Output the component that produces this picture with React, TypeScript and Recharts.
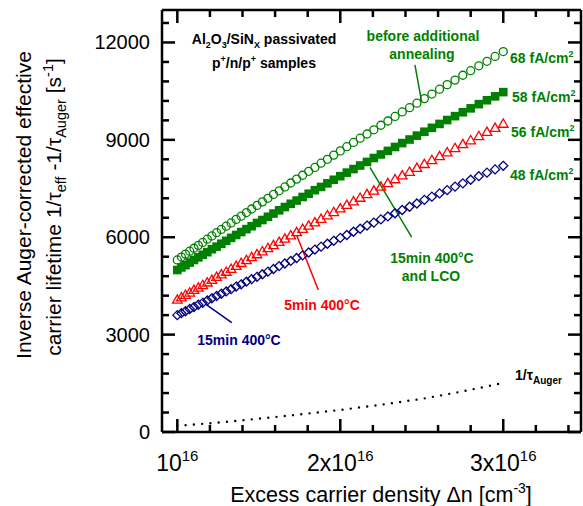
import React from "react";
import { ComposedChart, Scatter, Line, XAxis, YAxis, ReferenceLine } from "recharts";

// excess carrier density, in units of 1e16 cm^-3
const dn = [
  1.0, 1.025, 1.05, 1.076, 1.102, 1.129, 1.156, 1.184, 1.212, 1.241, 1.27, 1.3, 1.33, 1.361,
  1.392, 1.424, 1.456, 1.489, 1.522, 1.556, 1.59, 1.625, 1.66, 1.696, 1.732, 1.769, 1.806,
  1.844, 1.882, 1.921, 1.96, 2.0, 2.04, 2.081, 2.122, 2.164, 2.206, 2.249, 2.292, 2.336, 2.38,
  2.425, 2.47, 2.516, 2.562, 2.609, 2.656, 2.704, 2.752, 2.8, 2.85, 2.9, 2.95, 3.0,
];

// before additional annealing, 68 fA/cm2 (open circles)
const j68 = [
  5300, 5390, 5480, 5570, 5660, 5750, 5840, 5940, 6040, 6140, 6240, 6340, 6440, 6550, 6650,
  6760, 6870, 6980, 7090, 7200, 7320, 7430, 7550, 7670, 7790, 7910, 8030, 8150, 8280, 8400,
  8530, 8660, 8790, 8920, 9050, 9180, 9310, 9450, 9580, 9720, 9860, 9990, 10130, 10270, 10410,
  10560, 10700, 10840, 10990, 11130, 11280, 11420, 11570, 11720,
];

// 15min 400°C and LCO, 58 fA/cm2 (filled squares)
const j58 = [
  4990, 5070, 5140, 5220, 5300, 5380, 5460, 5540, 5630, 5710, 5800, 5890, 5980, 6070, 6160,
  6250, 6340, 6440, 6530, 6630, 6730, 6830, 6930, 7030, 7130, 7240, 7340, 7450, 7550, 7660,
  7770, 7880, 7990, 8100, 8210, 8320, 8440, 8550, 8660, 8780, 8900, 9010, 9130, 9250, 9370,
  9490, 9610, 9730, 9850, 9970, 10100, 10220, 10340, 10470,
];

// 5min 400°C, 56 fA/cm2 (open triangles)
const j56 = [
  4070, 4140, 4220, 4290, 4370, 4440, 4520, 4600, 4680, 4770, 4850, 4930, 5020, 5110, 5200,
  5290, 5380, 5470, 5560, 5660, 5750, 5850, 5950, 6050, 6150, 6250, 6350, 6450, 6560, 6670,
  6770, 6880, 6990, 7100, 7210, 7320, 7430, 7550, 7660, 7780, 7900, 8010, 8130, 8250, 8370,
  8490, 8610, 8740, 8860, 8980, 9110, 9240, 9360, 9490,
];

// 15min 400°C, 48 fA/cm2 (open diamonds)
const j48 = [
  3600, 3660, 3720, 3790, 3850, 3920, 3980, 4050, 4120, 4190, 4260, 4330, 4400, 4480, 4550,
  4630, 4710, 4780, 4860, 4940, 5020, 5110, 5190, 5270, 5360, 5440, 5530, 5620, 5710, 5800,
  5890, 5980, 6070, 6170, 6260, 6360, 6450, 6550, 6640, 6740, 6840, 6940, 7040, 7150, 7250,
  7350, 7450, 7560, 7660, 7770, 7880, 7990, 8090, 8200,
];

const augerDn = [1.0, 1.25, 1.5, 1.75, 2.0, 2.25, 2.5, 2.75, 3.0];
const auger = [190, 290, 410, 540, 680, 840, 1020, 1250, 1510];

const xTicks = [1, 1.2, 1.4, 1.6, 1.8, 2, 2.2, 2.4, 2.6, 2.8, 3, 3.2, 3.4];
const xMajor = [1, 2, 3];
const xLabels = ["10", "2x10", "3x10"];
const yTicks = [
  0, 600, 1200, 1800, 2400, 3000, 3600, 4200, 4800, 5400, 6000, 6600, 7200, 7800, 8400, 9000,
  9600, 10200, 10800, 11400, 12000, 12600,
];
const yMajor = [0, 3000, 6000, 9000, 12000];

const GREEN = "#008000";
const RED = "#ff0000";
const NAVY = "#000080";
const FONT = "'Liberation Sans', Arial, sans-serif";
const AX = { stroke: "#000", strokeWidth: 2.5 };

const pts = (xs: number[], ys: number[]) => xs.map((x, i) => ({ x, y: ys[i] }));

const BottomTick = (p: any) => {
  const i = xMajor.indexOf(p.payload.value);
  return (
    <g>
      <line x1={p.x} y1={p.y} x2={p.x} y2={p.y - (i >= 0 ? 13 : 7)} {...AX} />
      {i >= 0 && (
        <text x={p.x} y={p.y + 39} textAnchor="middle" fontSize={23} fontFamily={FONT} fill="#000">
          {xLabels[i]}
          <tspan fontSize={15} dy={-10}>16</tspan>
        </text>
      )}
    </g>
  );
};

const TopTick = (p: any) => {
  const major = xMajor.includes(p.payload.value);
  return <line x1={p.x} y1={p.y} x2={p.x} y2={p.y + (major ? 13 : 7)} {...AX} />;
};

const LeftTick = (p: any) => {
  const major = yMajor.includes(p.payload.value);
  return (
    <g>
      <line x1={p.x} y1={p.y} x2={p.x + (major ? 13 : 7)} y2={p.y} {...AX} />
      {major && (
        <text x={p.x - 12} y={p.y + 7} textAnchor="end" fontSize={20} fontFamily={FONT} fill="#000">
          {p.payload.value}
        </text>
      )}
    </g>
  );
};

const RightTick = (p: any) => {
  const major = yMajor.includes(p.payload.value);
  return <line x1={p.x} y1={p.y} x2={p.x - (major ? 13 : 7)} y2={p.y} {...AX} />;
};

const circle = (p: any) => (
  <circle cx={p.cx} cy={p.cy} r={4} fill="none" stroke={GREEN} strokeWidth={1.3} />
);
const square = (p: any) => <rect x={p.cx - 4.3} y={p.cy - 4.3} width={8.6} height={8.6} fill={GREEN} />;
const triangle = (p: any) => (
  <polygon
    points={`${p.cx},${p.cy - 5} ${p.cx - 4.8},${p.cy + 3.3} ${p.cx + 4.8},${p.cy + 3.3}`}
    fill="none"
    stroke={RED}
    strokeWidth={1.3}
  />
);
const diamond = (p: any) => (
  <polygon
    points={`${p.cx},${p.cy - 4.5} ${p.cx + 4.5},${p.cy} ${p.cx},${p.cy + 4.5} ${p.cx - 4.5},${p.cy}`}
    fill="none"
    stroke={NAVY}
    strokeWidth={1.3}
  />
);

const bold = { fontFamily: FONT, fontWeight: "bold" as const, fontSize: 14 };

function Annotations() {
  return (
    <svg width={583} height={506} style={{ position: "absolute", left: 0, top: 0, pointerEvents: "none" }}>
      <g {...bold} fill="#000" textAnchor="middle">
        <text x={264} y={44}>
          Al<tspan fontSize={9} dy={4}>2</tspan>
          <tspan dy={-4}>O</tspan>
          <tspan fontSize={9} dy={4}>3</tspan>
          <tspan dy={-4}>/SiN</tspan>
          <tspan fontSize={9} dy={4}>X</tspan>
          <tspan dy={-4}> passivated</tspan>
        </text>
        <text x={264} y={68}>
          p<tspan fontSize={9} dy={-6}>+</tspan>
          <tspan dy={6}>/n/p</tspan>
          <tspan fontSize={9} dy={-6}>+</tspan>
          <tspan dy={6}> samples</tspan>
        </text>
      </g>
      <g {...bold} fill={GREEN}>
        <text x={423} y={41} textAnchor="middle">before additional</text>
        <text x={422} y={59} textAnchor="middle">annealing</text>
        <text x={432} y={263} textAnchor="middle">15min 400°C</text>
        <text x={431} y={281} textAnchor="middle">and LCO</text>
        {[
          ["68", 63, 510],
          ["58", 102, 512],
          ["56", 137, 511],
          ["48", 180, 510],
        ].map(([v, y, x]) => (
          <text key={v as string} x={x as number} y={y as number}>
            {v} fA/cm<tspan fontSize={9} dy={-6}>2</tspan>
          </text>
        ))}
      </g>
      <text x={322} y={310} textAnchor="middle" {...bold} fill={RED}>5min 400°C</text>
      <text x={239} y={345} textAnchor="middle" {...bold} fill={NAVY}>15min 400°C</text>
      <text x={515} y={380} {...bold} fill="#000">
        1/τ<tspan fontSize={10} dy={4}>Auger</tspan>
      </text>
      <text x={381} y={502} textAnchor="middle" fontFamily={FONT} fontSize={21.5} fill="#000">
        Excess carrier density Δn [cm<tspan fontSize={14} dy={-9}>-3</tspan>
        <tspan dy={9}>]</tspan>
      </text>
      <g fontFamily={FONT} fontSize={21} fill="#000" textAnchor="middle">
        <text transform="translate(31,205) rotate(-90)">Inverse Auger-corrected effective</text>
        <text transform="translate(61,207) rotate(-90)">
          carrier lifetime 1/τ<tspan fontSize={14.5} dy={5}>eff</tspan>
          <tspan dy={-5}> -1/τ</tspan>
          <tspan fontSize={14.5} dy={5}>Auger</tspan>
          <tspan dy={-5}> [s</tspan>
          <tspan fontSize={14.5} dy={-8}>-1</tspan>
          <tspan dy={8}>]</tspan>
        </text>
      </g>
    </svg>
  );
}

export default function App() {
  return (
    <div style={{ position: "absolute", left: 0, top: 0, width: 583, height: 506, background: "#fff" }}>
      <ComposedChart width={583} height={506} margin={{ top: 9, right: 1, bottom: 0, left: 0 }}>
        <XAxis
          type="number"
          dataKey="x"
          domain={[0.906, 3.477]}
          allowDataOverflow
          ticks={xTicks}
          interval={0}
          tick={BottomTick}
          tickLine={false}
          tickSize={0}
          tickMargin={0}
          height={74}
          axisLine={AX}
        />
        <XAxis
          xAxisId="top"
          orientation="top"
          type="number"
          dataKey="x"
          domain={[0.906, 3.477]}
          allowDataOverflow
          ticks={xTicks}
          interval={0}
          tick={TopTick}
          tickLine={false}
          tickSize={0}
          tickMargin={0}
          height={1}
          axisLine={AX}
        />
        <YAxis
          type="number"
          dataKey="y"
          domain={[0, 13000]}
          allowDataOverflow
          ticks={yTicks}
          interval={0}
          tick={LeftTick}
          tickLine={false}
          tickSize={0}
          tickMargin={0}
          width={162}
          axisLine={AX}
        />
        <YAxis
          yAxisId="right"
          orientation="right"
          type="number"
          dataKey="y"
          domain={[0, 13000]}
          allowDataOverflow
          ticks={yTicks}
          interval={0}
          tick={RightTick}
          tickLine={false}
          tickSize={0}
          tickMargin={0}
          width={1}
          axisLine={AX}
        />
        <Line
          data={pts(augerDn, auger)}
          dataKey="y"
          stroke="#000"
          strokeWidth={2.4}
          strokeDasharray="0 8.3"
          strokeLinecap="round"
          dot={false}
          isAnimationActive={false}
        />
        <Scatter data={pts(dn, j48)} shape={diamond} isAnimationActive={false} />
        <Scatter data={pts(dn, j56)} shape={triangle} isAnimationActive={false} />
        <Scatter data={pts(dn, j58)} shape={square} isAnimationActive={false} />
        <Scatter data={pts(dn, j68)} shape={circle} isAnimationActive={false} />
        <Scatter xAxisId="top" yAxisId="right" data={pts(augerDn, auger)} shape={() => null} isAnimationActive={false} />
        <ReferenceLine segment={[{ x: 2.458, y: 11307 }, { x: 2.499, y: 10177 }]} stroke={GREEN} strokeWidth={1.5} />
        <ReferenceLine segment={[{ x: 2.182, y: 8150 }, { x: 2.438, y: 6000 }]} stroke={GREEN} strokeWidth={1.5} />
        <ReferenceLine segment={[{ x: 1.732, y: 6070 }, { x: 1.865, y: 4375 }]} stroke={RED} strokeWidth={1.5} />
        <ReferenceLine segment={[{ x: 1.18, y: 3913 }, { x: 1.334, y: 3368 }]} stroke={NAVY} strokeWidth={1.5} />
      </ComposedChart>
      <Annotations />
    </div>
  );
}
